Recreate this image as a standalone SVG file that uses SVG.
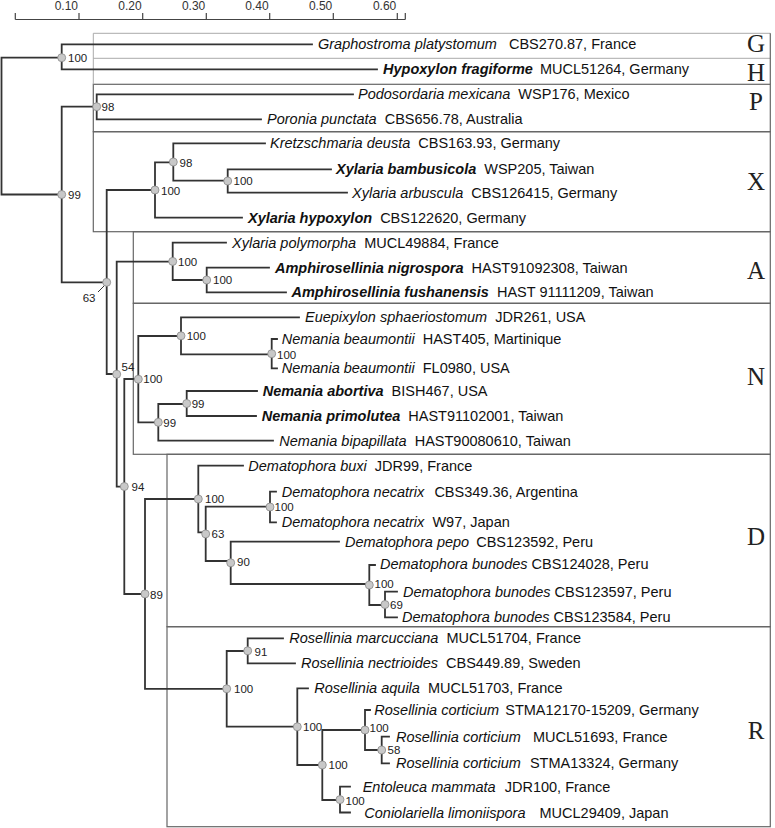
<svg xmlns="http://www.w3.org/2000/svg" width="775" height="828" viewBox="0 0 775 828">
<style>
.br{fill:none;stroke:#333;stroke-width:1.8;stroke-linecap:square}
.nd{fill:#c8c8c8;stroke:#8a8a8a;stroke-width:0.8}
.bs{font-family:"Liberation Sans",Arial,sans-serif;font-size:11.5px;fill:#222}
.tx{font-family:"Liberation Sans",Arial,sans-serif;font-size:14.5px;fill:#111}
.i{font-style:italic}
.b{font-style:italic;font-weight:bold}
.lt{font-family:"Liberation Serif","Times New Roman",serif;font-size:25px;fill:#222;text-anchor:middle}
.bx{fill:none;stroke:#666;stroke-width:1.2}
.bxl{fill:none;stroke:#aaa;stroke-width:1}
.sc{fill:none;stroke:#444;stroke-width:1.2}
.sl{font-family:"Liberation Sans",Arial,sans-serif;font-size:12px;fill:#333;text-anchor:end}
</style>
<rect width="775" height="828" fill="#fff"/>
<g id="scale">
<path class="sc" d="M15.3,19.5H405.3M15.3,13V19.5M79,13V19.5M142.7,13V19.5M206.3,13V19.5M269.7,13V19.5M333.3,13V19.5M397.3,13V19.5M405.3,13V19.5"/>
<text class="sl" x="78" y="9.5">0.10</text>
<text class="sl" x="141.7" y="9.5">0.20</text>
<text class="sl" x="205.3" y="9.5">0.30</text>
<text class="sl" x="268.7" y="9.5">0.40</text>
<text class="sl" x="332.3" y="9.5">0.50</text>
<text class="sl" x="396.3" y="9.5">0.60</text>
</g>
<g id="boxes">
<rect class="bx" x="93.3" y="84.3" width="677" height="47.4"/>
<rect class="bx" x="93.3" y="131.7" width="677" height="100"/>
<rect class="bx" x="133.3" y="231.7" width="637" height="71.6"/>
<rect class="bx" x="133.3" y="303.3" width="637" height="151"/>
<rect class="bx" x="167" y="454.3" width="603.3" height="172.4"/>
<rect class="bx" x="167" y="626.7" width="603.3" height="200"/>
<path class="bxl" d="M93.3,84.3V33.3H770.3M93.3,58.3H770.3"/>
<path class="bx" d="M770.3,33.3V84.3"/>
<text class="lt" x="756" y="52">G</text>
<text class="lt" x="756" y="80.5">H</text>
<text class="lt" x="756" y="109.5">P</text>
<text class="lt" x="756" y="190">X</text>
<text class="lt" x="756" y="278.5">A</text>
<text class="lt" x="756" y="384.5">N</text>
<text class="lt" x="756" y="544.5">D</text>
<text class="lt" x="756" y="738.5">R</text>
</g>
<g id="connectors">
<path class="br" d="M1.5,57.7V194.5M1.5,57.7H61.7M1.5,194.5H61.7"/>
<path class="br" d="M61.7,44.3V69.3M61.7,44.3H312M61.7,69.3H377"/>
<path class="br" d="M61.7,106.7V282.3M61.7,106.7H96.7M61.7,282.3H106.7"/>
<path class="br" d="M96.7,94.3V119.3M96.7,94.3H353M96.7,119.3H261"/>
<path class="br" d="M106.7,190V374M106.7,190H155M106.7,374H116.7"/>
<path class="br" d="M155,162.3V217.7M155,162.3H173.3M155,217.7H242"/>
<path class="br" d="M173.3,143.3V180.7M173.3,143.3H265M173.3,180.7H227.7"/>
<path class="br" d="M227.7,169.3V192.7M227.7,169.3H331M227.7,192.7H347"/>
<path class="br" d="M116.7,261.7V486.7M116.7,261.7H172.7M116.7,486.7H124.3"/>
<path class="br" d="M172.7,242.7V280M172.7,242.7H226M172.7,280H206.7"/>
<path class="br" d="M206.7,267.7V292.3M206.7,267.7H269M206.7,292.3H286"/>
<path class="br" d="M124.3,379V594M124.3,379H138.3M124.3,594H145"/>
<path class="br" d="M138.3,336V422.3M138.3,336H181M138.3,422.3H158.3"/>
<path class="br" d="M181,317.3V354.3M181,317.3H299M181,354.3H271.7"/>
<path class="br" d="M271.7,339V368.3M271.7,339H277M271.7,368.3H277"/>
<path class="br" d="M158.3,404V440.7M158.3,404H186.7M158.3,440.7H273"/>
<path class="br" d="M186.7,391V416M186.7,391H257M186.7,416H256"/>
<path class="br" d="M145,499V688.8M145,499H198.3M145,688.8H226.7"/>
<path class="br" d="M198.3,465.7V532.3M198.3,465.7H243M198.3,532.3H205.7"/>
<path class="br" d="M205.7,506.7V561M205.7,506.7H270M205.7,561H230.7"/>
<path class="br" d="M270,491.7V522.3M270,491.7H276M270,522.3H276"/>
<path class="br" d="M230.7,541.7V584M230.7,541.7H339M230.7,584H369.3"/>
<path class="br" d="M369.3,565V605M369.3,565H375M369.3,605H385"/>
<path class="br" d="M385,591.7V617.3M385,591.7H397M385,617.3H397"/>
<path class="br" d="M226.7,651V726.7M226.7,651H247.7M226.7,726.7H297.3"/>
<path class="br" d="M247.7,638.3V663.3M247.7,638.3H283M247.7,663.3H295"/>
<path class="br" d="M297.3,688.3V765M297.3,688.3H308M297.3,765H322.3"/>
<path class="br" d="M322.3,730V800M322.3,730H365M322.3,800H340"/>
<path class="br" d="M365,710V750M365,710H370M365,750H381.7"/>
<path class="br" d="M381.7,736.7V763.3M381.7,736.7H389M381.7,763.3H389"/>
<path class="br" d="M340,786.7V812.5M340,786.7H350M340,812.5H350"/>
<path d="M98,292L104.5,285.5" stroke="#333" stroke-width="1"/>
</g>
<g id="inner-nodes">
<g id="n-gh"><circle class="nd" cx="61.7" cy="57.7" r="4"/><text class="bs" x="68" y="62">100</text></g>
<g id="n-99"><circle class="nd" cx="61.7" cy="194.5" r="4"/><text class="bs" x="68" y="198.5">99</text></g>
<g id="n-p98"><circle class="nd" cx="96.7" cy="106.7" r="4"/><text class="bs" x="101.5" y="111">98</text></g>
<g id="n-63"><circle class="nd" cx="106.7" cy="282.3" r="4"/><text class="bs" x="82.7" y="301.7">63</text></g>
<g id="n-x100"><circle class="nd" cx="155" cy="190" r="4"/><text class="bs" x="161" y="195">100</text></g>
<g id="n-x98"><circle class="nd" cx="173.3" cy="162" r="4"/><text class="bs" x="179.5" y="166.5">98</text></g>
<g id="n-x100b"><circle class="nd" cx="227.7" cy="181" r="4"/><text class="bs" x="233.5" y="185">100</text></g>
<g id="n-54"><circle class="nd" cx="116.7" cy="374.2" r="4"/><text class="bs" x="121.5" y="370.7">54</text></g>
<g id="n-a100"><circle class="nd" cx="172.7" cy="261.4" r="4"/><text class="bs" x="178" y="266">100</text></g>
<g id="n-a100b"><circle class="nd" cx="206.7" cy="280" r="4"/><text class="bs" x="213" y="284.3">100</text></g>
<g id="n-94"><circle class="nd" cx="124.3" cy="486.5" r="4"/><text class="bs" x="131.5" y="491">94</text></g>
<g id="n-n100"><circle class="nd" cx="138.3" cy="379.2" r="4"/><text class="bs" x="143.3" y="383.3">100</text></g>
<g id="n-n100b"><circle class="nd" cx="181" cy="335.8" r="4"/><text class="bs" x="186.7" y="340">100</text></g>
<g id="n-n100c"><circle class="nd" cx="271.7" cy="353.7" r="4"/><text class="bs" x="277" y="358.7">100</text></g>
<g id="n-n99a"><circle class="nd" cx="158.3" cy="422.3" r="4"/><text class="bs" x="163.3" y="427">99</text></g>
<g id="n-n99b"><circle class="nd" cx="186.7" cy="403.5" r="4"/><text class="bs" x="191.7" y="408">99</text></g>
<g id="n-89"><circle class="nd" cx="145" cy="593.9" r="4"/><text class="bs" x="150" y="598.5">89</text></g>
<g id="n-d100"><circle class="nd" cx="198.3" cy="499" r="4"/><text class="bs" x="205" y="502.5">100</text></g>
<g id="n-d63"><circle class="nd" cx="205.7" cy="533.9" r="4"/><text class="bs" x="211.5" y="537.5">63</text></g>
<g id="n-d100n"><circle class="nd" cx="270" cy="507" r="4"/><text class="bs" x="274.5" y="510.5">100</text></g>
<g id="n-d90"><circle class="nd" cx="230.7" cy="562.8" r="4"/><text class="bs" x="237" y="566">90</text></g>
<g id="n-d100b"><circle class="nd" cx="369.3" cy="585" r="4"/><text class="bs" x="374.5" y="588">100</text></g>
<g id="n-d69"><circle class="nd" cx="385" cy="604.5" r="4"/><text class="bs" x="390" y="609">69</text></g>
<g id="n-r100"><circle class="nd" cx="226.7" cy="688.8" r="4"/><text class="bs" x="234" y="692.5">100</text></g>
<g id="n-r91"><circle class="nd" cx="247.7" cy="650.8" r="4"/><text class="bs" x="254.5" y="656">91</text></g>
<g id="n-r100b"><circle class="nd" cx="297.3" cy="726.8" r="4"/><text class="bs" x="303" y="730.5">100</text></g>
<g id="n-r100c"><circle class="nd" cx="322.3" cy="765" r="4"/><text class="bs" x="328.5" y="768.5">100</text></g>
<g id="n-r100d"><circle class="nd" cx="365" cy="730" r="4"/><text class="bs" x="369.5" y="731.5">100</text></g>
<g id="n-r58"><circle class="nd" cx="381.7" cy="750" r="4"/><text class="bs" x="387.5" y="754">58</text></g>
<g id="n-r100e"><circle class="nd" cx="340" cy="799.6" r="4"/><text class="bs" x="345.5" y="805">100</text></g>
</g>
<g id="taxa" class="tx">
<g id="t-graphostroma"><text x="318" y="49.3"><tspan class="i">Graphostroma platystomum</tspan><tspan dx="8"> CBS270.87, France</tspan></text></g>
<g id="t-hypoxylon"><text x="383" y="74.3"><tspan class="b">Hypoxylon fragiforme</tspan><tspan dx="3"> MUCL51264, Germany</tspan></text></g>
<g id="t-podosordaria"><text x="358" y="99.3"><tspan class="i">Podosordaria mexicana</tspan><tspan dx="4"> WSP176, Mexico</tspan></text></g>
<g id="t-poronia"><text x="267" y="124.3"><tspan class="i">Poronia punctata</tspan><tspan dx="4"> CBS656.78, Australia</tspan></text></g>
<g id="t-kretzschmaria"><text x="270" y="148.3"><tspan class="i">Kretzschmaria deusta</tspan><tspan dx="4"> CBS163.93, Germany</tspan></text></g>
<g id="t-bambusicola"><text x="336" y="174.3"><tspan class="b">Xylaria bambusicola</tspan><tspan dx="4"> WSP205, Taiwan</tspan></text></g>
<g id="t-arbuscula"><text x="352" y="197.7"><tspan class="i">Xylaria arbuscula</tspan><tspan dx="4"> CBS126415, Germany</tspan></text></g>
<g id="t-xhypoxylon"><text x="248" y="222.7"><tspan class="b">Xylaria hypoxylon</tspan><tspan dx="4"> CBS122620, Germany</tspan></text></g>
<g id="t-polymorpha"><text x="232" y="247.7"><tspan class="i">Xylaria polymorpha</tspan><tspan dx="4"> MUCL49884, France</tspan></text></g>
<g id="t-nigrospora"><text x="275" y="272.7"><tspan class="b">Amphirosellinia nigrospora</tspan><tspan dx="4"> HAST91092308, Taiwan</tspan></text></g>
<g id="t-fushanensis"><text x="291.5" y="297.3"><tspan class="b">Amphirosellinia fushanensis</tspan><tspan dx="4"> HAST 91111209, Taiwan</tspan></text></g>
<g id="t-euepixylon"><text x="305" y="322.3"><tspan class="i">Euepixylon sphaeriostomum</tspan><tspan dx="4"> JDR261, USA</tspan></text></g>
<g id="t-beaumontii1"><text x="281.7" y="344"><tspan class="i">Nemania beaumontii</tspan><tspan dx="4"> HAST405, Martinique</tspan></text></g>
<g id="t-beaumontii2"><text x="281.7" y="373.3"><tspan class="i">Nemania beaumontii</tspan><tspan dx="4"> FL0980, USA</tspan></text></g>
<g id="t-abortiva"><text x="262.7" y="396"><tspan class="b">Nemania abortiva</tspan><tspan dx="4"> BISH467, USA</tspan></text></g>
<g id="t-primolutea"><text x="261.7" y="421"><tspan class="b">Nemania primolutea</tspan><tspan dx="4"> HAST91102001, Taiwan</tspan></text></g>
<g id="t-bipapillata"><text x="279.3" y="445.7"><tspan class="i">Nemania bipapillata</tspan><tspan dx="4"> HAST90080610, Taiwan</tspan></text></g>
<g id="t-buxi"><text x="248.3" y="470.7"><tspan class="i">Dematophora buxi</tspan><tspan dx="4"> JDR99, France</tspan></text></g>
<g id="t-necatrix1"><text x="281.7" y="496.7"><tspan class="i">Dematophora necatrix</tspan><tspan dx="6"> CBS349.36, Argentina</tspan></text></g>
<g id="t-necatrix2"><text x="281.7" y="527.3"><tspan class="i">Dematophora necatrix</tspan><tspan dx="4"> W97, Japan</tspan></text></g>
<g id="t-pepo"><text x="345" y="546.7"><tspan class="i">Dematophora pepo</tspan><tspan dx="3"> CBS123592, Peru</tspan></text></g>
<g id="t-bunodes1"><text x="380" y="569.3"><tspan class="i">Dematophora bunodes</tspan><tspan> CBS124028, Peru</tspan></text></g>
<g id="t-bunodes2"><text x="403" y="596.7"><tspan class="i">Dematophora bunodes</tspan><tspan> CBS123597, Peru</tspan></text></g>
<g id="t-bunodes3"><text x="402" y="622.3"><tspan class="i">Dematophora bunodes</tspan><tspan> CBS123584, Peru</tspan></text></g>
<g id="t-marcucciana"><text x="289.3" y="643.3"><tspan class="i">Rosellinia marcucciana</tspan><tspan dx="4"> MUCL51704, France</tspan></text></g>
<g id="t-nectrioides"><text x="301" y="668.3"><tspan class="i">Rosellinia nectrioides</tspan><tspan dx="4"> CBS449.89, Sweden</tspan></text></g>
<g id="t-aquila"><text x="314.3" y="693.3"><tspan class="i">Rosellinia aquila</tspan><tspan dx="4"> MUCL51703, France</tspan></text></g>
<g id="t-corticium1"><text x="374.3" y="715"><tspan class="i">Rosellinia corticium</tspan><tspan dx="2"> STMA12170-15209, Germany</tspan></text></g>
<g id="t-corticium2"><text x="396" y="741.7"><tspan class="i">Rosellinia corticium</tspan><tspan dx="8"> MUCL51693, France</tspan></text></g>
<g id="t-corticium3"><text x="396" y="768.3"><tspan class="i">Rosellinia corticium</tspan><tspan dx="5"> STMA13324, Germany</tspan></text></g>
<g id="t-entoleuca"><text x="362.7" y="791.7"><tspan class="i">Entoleuca mammata</tspan><tspan dx="5"> JDR100, France</tspan></text></g>
<g id="t-coniolariella"><text x="364.3" y="817.5"><tspan class="i">Coniolariella limoniispora</tspan><tspan dx="10"> MUCL29409, Japan</tspan></text></g>
</g>
</svg>
